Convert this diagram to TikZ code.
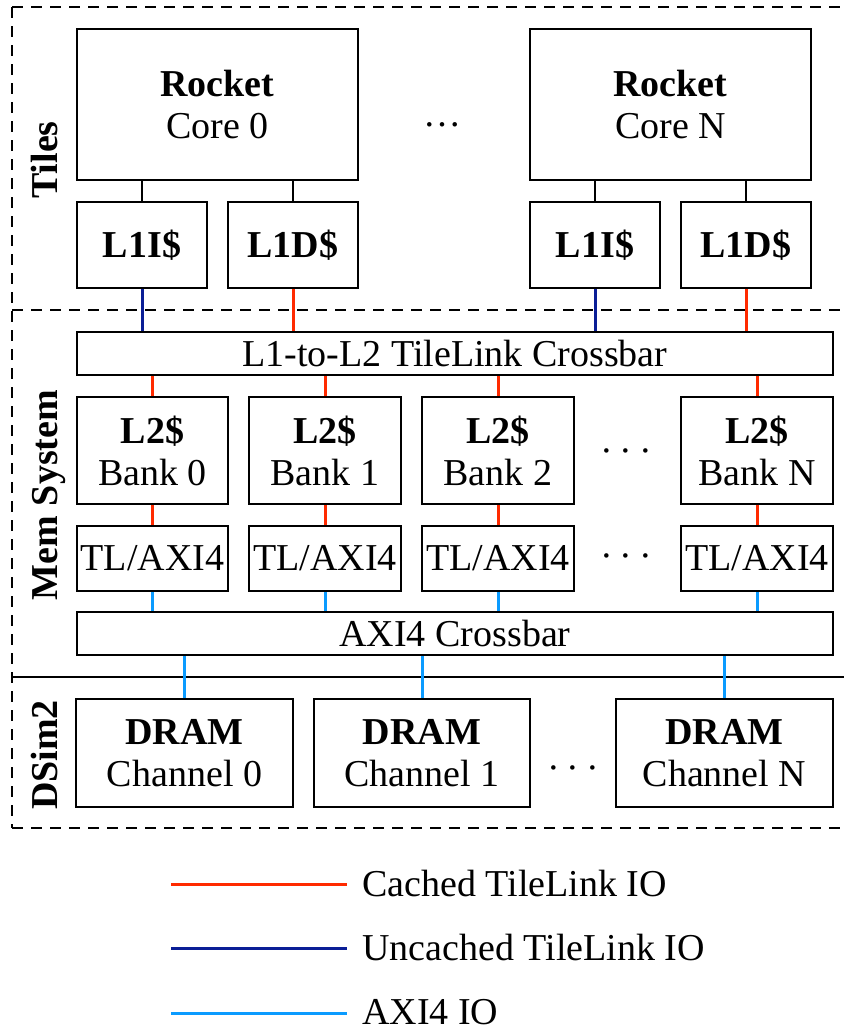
\documentclass[tikz,border=0pt]{standalone}
\usepackage{fontspec}
\setmainfont{Liberation Serif}
\usetikzlibrary{calc}
\definecolor{cachedred}{HTML}{FF2A00}
\definecolor{uncachedblue}{HTML}{0A1E96}
\definecolor{axiblue}{HTML}{0A9BFF}
\newcommand{\spreaddots}{·\kern7pt·\kern7pt·}
\begin{document}
\begin{tikzpicture}[x=1pt,y=-1pt,
  box/.style={draw, line width=2pt, inner sep=0pt, align=center, font=\fontsize{38}{42}\selectfont},
  region/.style={line width=2.2pt, dash pattern=on 11pt off 8pt},
  cached/.style={draw=cachedred, line width=3pt},
  uncached/.style={draw=uncachedblue, line width=3pt},
  axi/.style={draw=axiblue, line width=3pt},
  plainlink/.style={draw=black, line width=1.5pt},
  side/.style={rotate=90, anchor=base, inner sep=0pt, font=\bfseries\fontsize{38}{42}\selectfont},
  dotstxt/.style={anchor=base, inner sep=0pt, font=\fontsize{38}{42}\selectfont},
  legtext/.style={anchor=base west, inner sep=0pt, font=\fontsize{38}{42}\selectfont}]
\useasboundingbox (0,0) rectangle (844,1029);

% regions
\draw[region] (12,7) -- (850,7);
\draw[region] (12,310) -- (850,310);
\draw[region] (12,677) -- (850,677);
\draw[region, dash phase=9.5pt] (12,677) -- (850,677);
\draw[region] (12,828) -- (850,828);
\draw[region] (12,7) -- (12,828);

\node[side] (ltiles) at (57,160) {Tiles};
\node[side] (lmem) at (57,495) {Mem System};
\node[side] (ldsim) at (57,755) {DSim2};

% tiles
\node[box, minimum width=281pt, minimum height=151pt] (core0) at (217.5,104.5) {\textbf{Rocket}\\Core 0};
\node[box, minimum width=281pt, minimum height=151pt] (coreN) at (670.5,104.5) {\textbf{Rocket}\\Core N};
\node[box, minimum width=130pt, minimum height=86pt] (l1i0) at (142,245) {\textbf{L1I\$}};
\node[box, minimum width=130pt, minimum height=86pt] (l1d0) at (293,245) {\textbf{L1D\$}};
\node[box, minimum width=130pt, minimum height=86pt] (l1iN) at (595,245) {\textbf{L1I\$}};
\node[box, minimum width=130pt, minimum height=86pt] (l1dN) at (746,245) {\textbf{L1D\$}};
\node[dotstxt] (tdots) at (442,126) {…};

% mem system
\node[box, minimum width=756pt, minimum height=43pt] (xbar1) at (455,353.5) {L1-to-L2 TileLink Crossbar};
\node[box, minimum width=151pt, minimum height=107pt] (l2a) at (152.5,450.5) {\textbf{L2\$}\\Bank 0};
\node[box, minimum width=152pt, minimum height=107pt] (l2b) at (325,450.5) {\textbf{L2\$}\\Bank 1};
\node[box, minimum width=152pt, minimum height=107pt] (l2c) at (498,450.5) {\textbf{L2\$}\\Bank 2};
\node[box, minimum width=152pt, minimum height=107pt] (l2n) at (757,450.5) {\textbf{L2\$}\\Bank N};
\node[box, minimum width=151pt, minimum height=65pt] (tla) at (152.5,558.5) {TL/AXI4};
\node[box, minimum width=152pt, minimum height=65pt] (tlb) at (325,558.5) {TL/AXI4};
\node[box, minimum width=152pt, minimum height=65pt] (tlc) at (498,558.5) {TL/AXI4};
\node[box, minimum width=152pt, minimum height=65pt] (tln) at (757,558.5) {TL/AXI4};
\node[dotstxt] (l2dots) at (626,463) {\spreaddots};
\node[dotstxt] (tldots) at (626,568) {\spreaddots};
\node[box, minimum width=756pt, minimum height=43pt] (xbar2) at (455,633.5) {AXI4 Crossbar};

% dsim2
\node[box, minimum width=217pt, minimum height=108pt] (drama) at (184.5,753) {\textbf{DRAM}\\Channel 0};
\node[box, minimum width=216pt, minimum height=108pt] (dramb) at (422,753) {\textbf{DRAM}\\Channel 1};
\node[box, minimum width=217pt, minimum height=108pt] (dramn) at (724.5,753) {\textbf{DRAM}\\Channel N};
\node[dotstxt] (ddots) at (573,780) {\spreaddots};

% connectors
\foreach \l/\c in {l1i0/core0, l1d0/core0, l1iN/coreN, l1dN/coreN}
  \draw[plainlink] (\l.north) -- (\l.north |- \c.south);
\foreach \l in {l1i0, l1iN}
  \draw[uncached] (\l.south) -- (\l.south |- xbar1.north);
\foreach \l in {l1d0, l1dN}
  \draw[cached] (\l.south) -- (\l.south |- xbar1.north);
\foreach \b in {l2a, l2b, l2c, l2n}
  \draw[cached] (\b.north) -- (\b.north |- xbar1.south);
\foreach \b/\t in {l2a/tla, l2b/tlb, l2c/tlc, l2n/tln}
  \draw[cached] (\b.south) -- (\t.north);
\foreach \t in {tla, tlb, tlc, tln}
  \draw[axi] (\t.south) -- (\t.south |- xbar2.north);
\foreach \d in {drama, dramb, dramn}
  \draw[axi] (\d.north) -- (\d.north |- xbar2.south);

% legend
\coordinate (lg1s) at (171,884); \coordinate (lg1e) at (347,884);
\coordinate (lg2s) at (171,948); \coordinate (lg2e) at (347,948);
\coordinate (lg3s) at (171,1013); \coordinate (lg3e) at (347,1013);
\draw[cached] (lg1s) -- (lg1e);
\draw[uncached] (lg2s) -- (lg2e);
\draw[axi] (lg3s) -- (lg3e);
\node[legtext] (lt1) at (362,896) {Cached TileLink IO};
\node[legtext] (lt2) at (362,960) {Uncached TileLink IO};
\node[legtext] (lt3) at (362,1024) {AXI4 IO};
\end{tikzpicture}
\end{document}
